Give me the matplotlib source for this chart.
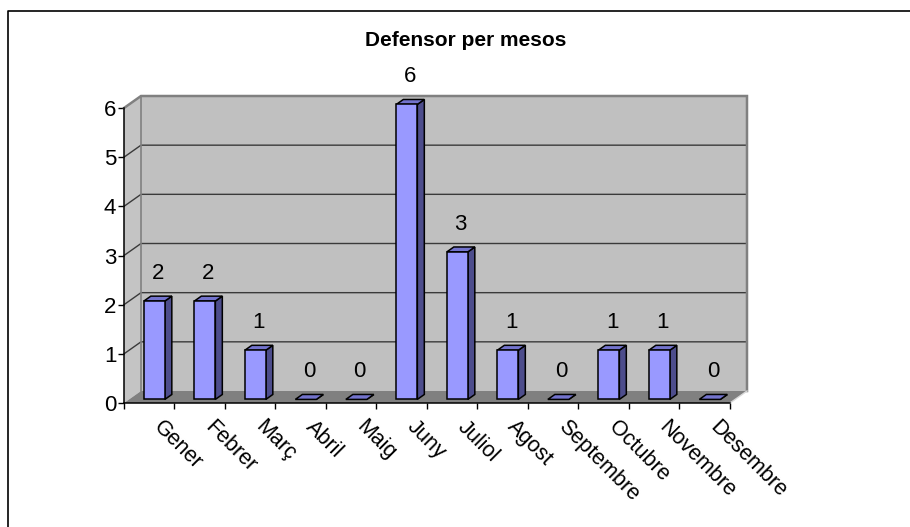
import matplotlib
matplotlib.use("Agg")
import matplotlib.pyplot as plt
from matplotlib.patches import Polygon
from matplotlib.lines import Line2D

months = ["Gener", "Febrer", "Març", "Abril", "Maig", "Juny", "Juliol",
          "Agost", "Septembre", "Octubre", "Novembre", "Desembre"]
values = [2, 2, 1, 0, 0, 6, 3, 1, 0, 1, 1, 0]
yticks = [0, 1, 2, 3, 4, 5, 6]
title = "Defensor per mesos"

plt.rcParams['font.family'] = ['Liberation Sans', 'DejaVu Sans']

W, H = 910, 527
fig = plt.figure(figsize=(W / 100, H / 100), dpi=100)
fig.patch.set_facecolor('white')

# front plane of the 3D box, in pixels
x0, x1 = 124, 730
y0, y1 = 403, 108
ax = fig.add_axes([x0 / W, 1 - y0 / H, (x1 - x0) / W, (y0 - y1) / H])
n = len(months)
ymax = 6
ax.set_xlim(0, n)
ax.set_ylim(0, ymax)
ax.patch.set_visible(False)
for s in ax.spines.values():
    s.set_visible(False)

pxx = (x1 - x0) / n
pxy = (y0 - y1) / ymax
DX = 17 / pxx
DY = 12 / pxy

wall = '#C0C0C0'
# left side wall
ax.add_patch(Polygon([(0, 0), (DX, DY), (DX, ymax + DY), (0, ymax)], closed=True,
                     facecolor='#C4C4C4', edgecolor='none', clip_on=False, zorder=1))
# back wall
ax.add_patch(Polygon([(DX, DY), (n + DX, DY), (n + DX, ymax + DY), (DX, ymax + DY)], closed=True,
                     facecolor=wall, edgecolor='none', clip_on=False, zorder=1))
# gridlines
for k in yticks[1:-1]:
    ax.add_line(Line2D([0, DX, n + DX], [k, k + DY, k + DY], color='#3a3a3a', lw=1.0,
                       clip_on=False, zorder=2))
# wall outline
ax.add_line(Line2D([0, DX, n + DX, n + DX], [ymax, ymax + DY, ymax + DY, DY], color='#808080',
                   lw=1.8, clip_on=False, zorder=2, solid_joinstyle='miter'))
ax.add_line(Line2D([DX, DX], [DY, ymax + DY], color='#808080', lw=1.2, clip_on=False, zorder=2))
# floor
ax.add_patch(Polygon([(0, 0), (n, 0), (n + DX, DY), (DX, DY)], closed=True,
                     facecolor='#808080', edgecolor='none', clip_on=False, zorder=3))
ax.add_line(Line2D([n, n + DX], [0, DY], color='#d8d8d8', lw=1.0, clip_on=False, zorder=3))

# bars
bw = 0.416
d1, d2 = 0.30, 0.71
front_c = '#9999FF'
top_c = '#7373CC'
side_c = '#4D4D8C'
for i, v in enumerate(values):
    l = i + 0.5 - bw / 2
    r = i + 0.5 + bw / 2
    fx, fy = d1 * DX, d1 * DY
    bx, by = d2 * DX, d2 * DY
    kw = dict(closed=True, edgecolor='black', lw=1.1, clip_on=False, zorder=4 + i * 0.01,
              joinstyle='miter')
    ax.add_patch(Polygon([(r + fx, fy), (r + bx, by), (r + bx, v + by), (r + fx, v + fy)],
                         facecolor=side_c, **kw))
    ax.add_patch(Polygon([(l + fx, v + fy), (r + fx, v + fy), (r + bx, v + by), (l + bx, v + by)],
                         facecolor=top_c, **kw))
    if v > 0:
        ax.add_patch(Polygon([(l + fx, fy), (r + fx, fy), (r + fx, v + fy), (l + fx, v + fy)],
                             facecolor=front_c, **kw))
    ax.annotate(str(v), xy=(i + 0.5 + 0.5 * DX, v + fy), xytext=(0, 22 * 0.72),
                textcoords='offset points', ha='center', va='baseline', fontsize=16,
                annotation_clip=False, zorder=6)

# axes lines
ax.add_line(Line2D([0, 0], [0, ymax], color='black', lw=1.1, clip_on=False, zorder=5))
ax.add_line(Line2D([0, n], [0, 0], color='black', lw=1.1, clip_on=False, zorder=5))

ax.set_yticks(yticks)
ax.set_yticklabels([str(t) for t in yticks], fontsize=16)
ax.tick_params(axis='y', direction='out', length=4.5, width=1, pad=1, colors='black')
ax.set_xticks(range(n + 1))
ax.set_xticklabels([])
ax.tick_params(axis='x', direction='out', length=4.5, width=1, colors='black')
for t in ax.get_yticklines() + ax.get_xticklines():
    t.set_zorder(5)

for i, m in enumerate(months):
    ax.annotate(m, xy=(i + 0.5, 0), xytext=(8 * 0.72, -21 * 0.72), textcoords='offset points',
                ha='left', va='center', rotation=-45, rotation_mode='anchor', fontsize=15.5,
                annotation_clip=False)

fig.text(466 / W, 1 - 46 / H, title, ha='center', va='baseline', fontsize=15, fontweight='bold')

# outer chart border
fig.add_artist(Line2D([8 / W, 8 / W, 1.0], [0.0, 1 - 11 / H, 1 - 11 / H], transform=fig.transFigure,
                      color='black', lw=1.2))

fig.savefig('out.png', dpi=100)
